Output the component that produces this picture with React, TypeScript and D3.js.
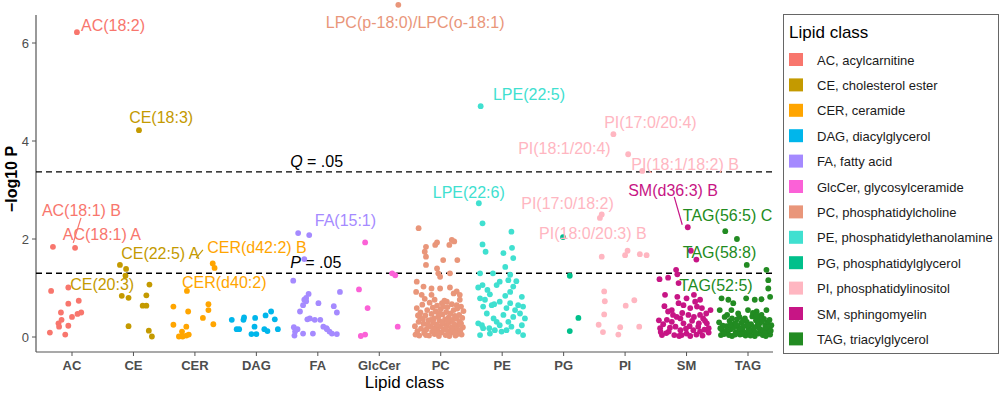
import React, { useEffect, useRef } from 'react';
import * as d3 from 'd3';

const categories = ['AC', 'CE', 'CER', 'DAG', 'FA', 'GlcCer', 'PC', 'PE', 'PG', 'PI', 'SM', 'TAG'];

const legendLabels = [
  'AC, acylcarnitine',
  'CE, cholesterol ester',
  'CER, ceramide',
  'DAG, diacylglycerol',
  'FA, fatty acid',
  'GlcCer, glycosylceramide',
  'PC, phosphatidylcholine',
  'PE, phosphatidylethanolamine',
  'PG, phosphatidylglycerol',
  'PI, phosphatidylinositol',
  'SM, sphingomyelin',
  'TAG, triacylglycerol',
];

const classColors = [
  '#F8766D', '#C49A00', '#FFA500', '#00B6EB', '#A58AFF', '#FB61D7',
  '#E9967A', '#40E0D0', '#00C08B', '#FFB6C1', '#C71585', '#228B22',
];

// each point: [jitter in category units, -log10 P]
const acPoints = [
  [0.08, 6.22], [-0.31, 1.84], [0.05, 1.82], [-0.34, 0.94], [-0.06, 1.01], [0.11, 0.74],
  [-0.06, 0.68], [-0.18, 0.5], [0.15, 0.5], [0.09, 0.47], [0.0, 0.41], [-0.17, 0.35],
  [-0.22, 0.28], [-0.06, 0.23], [-0.21, 0.21], [-0.36, 0.09], [-0.11, 0.05],
];

const cePoints = [
  [0.09, 4.22], [-0.22, 1.47], [-0.12, 1.39], [-0.13, 1.25], [0.26, 1.07], [-0.19, 0.84],
  [-0.08, 0.8], [0.21, 0.85], [0.15, 0.64], [0.21, 0.64], [-0.08, 0.22], [0.25, 0.13], [0.3, 0.01],
];

const cerPoints = [
  [0.29, 1.5], [0.32, 1.41], [-0.13, 0.94], [-0.35, 0.62], [-0.11, 0.52], [0.22, 0.67],
  [0.22, 0.55], [0.13, 0.39], [0.3, 0.26], [-0.35, 0.25], [-0.14, 0.21], [-0.21, 0.11],
  [-0.26, 0.01], [-0.2, 0.01], [-0.14, 0.03], [-0.1, 0.05],
];

const dagPoints = [
  [-0.4, 0.35], [-0.32, 0.16], [-0.28, 0.16], [-0.21, 0.35], [-0.2, 0.4], [-0.02, 0.39],
  [-0.03, 0.21], [-0.08, 0.06], [0.0, 0.06], [0.15, 0.44], [0.24, 0.52], [0.3, 0.36],
  [0.13, 0.16], [0.18, 0.12], [0.35, 0.16],
];

const faPoints = [
  [-0.32, 2.12], [-0.14, 2.08], [-0.22, 1.59], [-0.4, 1.15], [-0.15, 0.88], [-0.19, 0.8],
  [-0.22, 0.76], [-0.19, 0.73], [-0.24, 0.65], [0.01, 0.69], [0.26, 0.63], [0.36, 0.92],
  [0.31, 0.5], [-0.29, 0.52], [-0.17, 0.36], [-0.05, 0.35], [0.04, 0.35], [0.09, 0.21],
  [0.14, 0.18], [-0.39, 0.2], [-0.33, 0.16], [-0.24, 0.07], [-0.08, 0.07], [0.19, 0.11],
  [0.23, 0.07], [0.31, 0.06], [0.15, 0.16], [-0.37, 0.11], [-0.38, 0.03], [-0.13, 0.38],
];

const glcCerPoints = [
  [-0.23, 1.93], [-0.33, 0.97], [-0.19, 0.59], [0.21, 1.3], [0.26, 1.26], [0.3, 0.21],
  [-0.3, 0.02], [-0.23, 0.05],
];

const pcPoints = [
  [-0.69, 6.78], [-0.36, 2.22], [-0.24, 1.84], [-0.26, 1.74], [-0.24, 1.64], [-0.09, 1.88],
  [-0.06, 1.93], [0.04, 1.57], [0.14, 1.88], [0.18, 1.98], [0.22, 1.95], [0.27, 1.57],
  [-0.24, 1.47], [-0.06, 1.4], [-0.04, 1.3], [-0.01, 1.23], [0.15, 1.3], [-0.39, 1.13],
  [-0.28, 1.03], [-0.15, 0.99], [-0.01, 0.99], [0.15, 1.01], [0.26, 0.93], [0.31, 0.86],
  [-0.4, 0.92], [-0.31, 0.86], [-0.26, 0.78], [-0.15, 0.86], [-0.1, 0.76], [0.02, 0.69],
  [0.21, 0.89], [0.31, 0.76], [0.26, 0.65], [0.1, 0.72], [-0.39, 0.59], [-0.34, 0.41],
  [-0.42, 0.22], [0.17, 0.19], [-0.41, 0.05], [0.33, 0.62], [-0.33, 0.5], [0.09, 0.51],
  [-0.28, 0.27], [-0.27, 0.08], [0.36, 0.2], [-0.23, 0.16], [-0.22, 0.55], [0.06, 0.74],
  [-0.19, 0.03], [-0.18, 0.7], [0.24, 0.03], [-0.15, 0.47], [-0.14, 0.11], [-0.13, 0.6],
  [0.3, 0.45], [-0.11, 0.38], [-0.1, 0.06], [-0.09, 0.18], [-0.08, 0.52], [0.13, 0.4],
  [-0.06, 0.64], [-0.05, 0.13], [0.28, 0.24], [-0.03, 0.02], [-0.02, 0.33], [-0.01, 0.21],
  [0.0, 0.57], [0.01, 0.09], [0.03, 0.46], [-0.36, 0.31], [0.05, 0.15], [-0.2, 0.34],
  [0.07, 0.36], [0.08, 0.04], [-0.25, 0.44], [0.1, 0.23], [0.11, 0.61], [0.12, 0.12],
  [-0.12, 0.29], [0.14, 0.3], [0.15, 0.07], [0.16, 0.48], [-0.38, 0.12], [0.18, 0.67],
  [0.19, 0.35], [0.2, 0.1], [0.21, 0.55], [0.22, 0.26], [0.23, 0.43], [-0.07, 0.25],
  [0.25, 0.16], [0.26, 0.37], [0.27, 0.58], [-0.04, 0.42], [0.29, 0.09], [-0.17, 0.22],
  [0.31, 0.31], [0.32, 0.14], [-0.3, 0.66], [0.34, 0.05], [0.35, 0.39], [0.04, 0.27],
  [0.37, 0.53], [-0.37, 0.44], [-0.32, 0.17], [-0.29, 0.37], [-0.24, 0.04], [-0.21, 0.25],
  [-0.16, 0.35], [-0.06, 0.08], [0.02, 0.3], [0.08, 0.17], [0.14, 0.02], [0.19, 0.12],
  [0.27, 0.06], [0.33, 0.28], [-0.35, 0.03], [-0.11, 0.15], [0.04, 0.62], [0.23, 0.08],
  [-0.26, 0.12], [0.11, 0.33], [-0.02, 0.48],
];

const pePoints = [
  [-0.35, 4.71], [-0.38, 2.73], [-0.32, 2.32], [0.15, 2.15], [-0.32, 1.89], [-0.27, 1.74],
  [0.02, 1.71], [0.18, 1.61], [0.16, 1.82], [-0.36, 1.3], [-0.15, 1.3], [0.05, 1.43],
  [0.13, 1.27], [-0.39, 1.01], [-0.32, 1.06], [-0.24, 0.96], [-0.2, 0.87], [-0.09, 1.06],
  [-0.04, 1.13], [0.1, 1.16], [0.18, 1.03], [0.23, 1.14], [0.13, 0.92], [0.05, 0.84],
  [0.32, 0.82], [-0.36, 0.79], [-0.31, 0.62], [-0.13, 0.67], [-0.04, 0.72], [0.07, 0.59],
  [0.21, 0.55], [0.29, 0.48], [0.37, 0.38], [-0.39, 0.28], [-0.33, 0.24], [-0.21, 0.18],
  [-0.09, 0.31], [-0.04, 0.24], [0.07, 0.14], [0.15, 0.21], [0.26, 0.11], [0.34, 0.04],
  [-0.36, 0.04], [-0.2, 0.07], [0.18, 0.41], [0.26, 0.65], [-0.25, 0.48], [0.02, 0.45],
  [0.1, 0.31], [-0.14, 0.38], [-0.28, 0.76], [-0.17, 0.65], [0.34, 0.62], [0.13, 0.69],
  [0.32, 0.24], [-0.01, 0.11], [-0.12, 0.14], [-0.31, 0.18],
];

const pgPoints = [[-0.01, 2.04], [0.1, 1.25], [0.24, 0.39], [0.1, 0.12]];

const piPoints = [
  [-0.19, 4.14], [0.05, 3.73], [0.28, 3.39], [-0.41, 2.43], [-0.38, 2.5], [-0.38, 1.64],
  [0.0, 1.67], [0.04, 1.76], [0.24, 1.69], [0.35, 1.67], [-0.34, 0.93], [-0.33, 0.73],
  [0.15, 0.75], [0.01, 0.64], [-0.34, 0.46], [-0.43, 0.25], [-0.08, 0.2], [0.23, 0.21],
  [-0.36, 0.1], [-0.11, 0.05],
];

const smPoints = [
  [0.02, 2.24], [0.07, 1.76], [0.16, 1.58], [-0.17, 1.37], [-0.15, 1.28], [-0.44, 1.18],
  [-0.3, 1.21], [-0.13, 1.1], [-0.35, 0.86], [-0.15, 0.82], [0.12, 0.86], [0.22, 0.76],
  [0.0, 0.79], [-0.13, 0.69], [-0.24, 0.55], [-0.05, 0.65], [0.14, 0.72], [0.17, 0.62],
  [0.25, 0.59], [-0.16, 0.41], [-0.32, 0.35], [0.03, 0.45], [0.27, 0.38], [0.33, 0.28],
  [0.19, 0.21], [-0.43, 0.18], [-0.4, 0.04], [-0.29, 0.11], [-0.18, 0.21], [-0.1, 0.14],
  [0.0, 0.07], [0.06, 0.02], [0.11, 0.14], [0.22, 0.11], [-0.24, 0.31], [-0.05, 0.28],
  [-0.1, 0.38], [0.32, 0.48], [0.06, 0.59], [0.22, 0.45], [-0.38, 0.26], [-0.33, 0.08],
  [-0.2, 0.04], [-0.27, 0.19], [-0.07, 0.49], [0.09, 0.33], [0.16, 0.05], [0.29, 0.15],
  [0.36, 0.09], [-0.45, 0.34], [0.39, 0.55], [-0.12, 0.02], [0.12, 0.41], [-0.36, 0.63],
  [0.26, 0.03], [-0.01, 0.17], [-0.22, 0.45], [0.3, 0.33], [-0.08, 0.04], [0.2, 0.28],
  [-0.3, 0.52], [0.05, 0.22], [0.36, 0.18], [-0.42, 0.1],
];

const tagPoints = [
  [-0.37, 2.16], [-0.18, 2.0], [-0.02, 1.47], [0.3, 1.37], [0.33, 1.16], [0.33, 0.99],
  [0.36, 0.82], [-0.43, 0.79], [-0.32, 0.76], [-0.24, 0.69], [-0.03, 0.79], [0.11, 0.76],
  [0.22, 0.77], [-0.46, 0.55], [-0.27, 0.55], [-0.16, 0.48], [0.0, 0.55], [0.14, 0.52],
  [0.3, 0.55], [-0.38, 0.41], [-0.05, 0.38], [0.22, 0.45], [-0.47, 0.3], [-0.42, 0.14],
  [-0.44, 0.04], [-0.35, 0.22], [-0.33, 0.08], [-0.3, 0.33], [-0.28, 0.16], [-0.26, 0.02],
  [-0.22, 0.27], [-0.2, 0.1], [-0.18, 0.36], [-0.15, 0.19], [-0.13, 0.05], [-0.11, 0.29],
  [-0.09, 0.13], [-0.07, 0.22], [-0.04, 0.03], [-0.02, 0.31], [0.01, 0.17], [0.03, 0.08],
  [0.05, 0.26], [0.07, 0.42], [0.09, 0.12], [0.11, 0.02], [0.13, 0.34], [0.15, 0.21],
  [0.17, 0.07], [0.19, 0.28], [0.21, 0.15], [0.24, 0.04], [0.26, 0.37], [0.28, 0.23],
  [0.3, 0.1], [0.32, 0.3], [0.34, 0.16], [0.36, 0.05], [0.38, 0.24], [-0.41, 0.23],
  [-0.36, 0.12], [-0.31, 0.04], [-0.24, 0.19], [-0.17, 0.09], [-0.12, 0.16], [-0.06, 0.1],
  [0.0, 0.24], [0.06, 0.14], [0.12, 0.09], [0.18, 0.18], [0.25, 0.13], [0.31, 0.2],
  [-0.39, 0.06], [-0.29, 0.25], [-0.21, 0.05], [-0.08, 0.34], [0.04, 0.03], [0.16, 0.27],
  [0.27, 0.07], [0.37, 0.13], [-0.14, 0.41], [0.08, 0.49], [0.2, 0.38], [-0.34, 0.45],
  [-0.45, 0.18], [-0.1, 0.06], [0.14, 0.44], [0.23, 0.31], [0.35, 0.35], [-0.26, 0.38],
  [0.02, 0.12], [0.29, 0.02], [-0.19, 0.25], [0.1, 0.2],
];

const pointsByClass = [
  acPoints, cePoints, cerPoints, dagPoints, faPoints, glcCerPoints,
  pcPoints, pePoints, pgPoints, piPoints, smPoints, tagPoints,
];

// label text, class index, left x (category units), baseline (-log10 P)
const labels: [string, number, number, number][] = [
  ['AC(18:2)', 0, 0.146, 6.245],
  ['LPC(p-18:0)/LPC(o-18:1)', 6, 4.13, 6.31],
  ['CE(18:3)', 1, 0.93, 4.37],
  ['LPE(22:5)', 7, 6.85, 4.84],
  ['PI(17:0/20:4)', 9, 8.66, 4.27],
  ['PI(18:1/20:4)', 9, 7.26, 3.73],
  ['PI(18:1/18:2) B', 9, 9.1, 3.41],
  ['SM(d36:3) B', 10, 9.05, 2.88],
  ['LPE(22:6)', 7, 5.87, 2.84],
  ['PI(17:0/18:2)', 9, 7.31, 2.61],
  ['TAG(56:5) C', 11, 9.94, 2.37],
  ['PI(18:0/20:3) B', 9, 7.6, 2.0],
  ['TAG(58:8)', 11, 9.94, 1.61],
  ['TAG(52:5)', 11, 9.88, 0.94],
  ['AC(18:1) B', 0, -0.49, 2.47],
  ['AC(18:1) A', 0, -0.15, 1.98],
  ['CE(22:5) A', 1, 0.8, 1.59],
  ['CER(d42:2) B', 2, 2.2, 1.71],
  ['CE(20:3)', 1, -0.03, 0.96],
  ['CER(d40:2)', 2, 1.79, 1.0],
  ['FA(15:1)', 4, 3.95, 2.27],
];

// label leader lines: class index, x1, y1, x2, y2
const segments: [number, number, number, number, number][] = [
  [0, 0.146, 2.43, 0.02, 1.92],
  [10, 9.8, 2.86, 9.93, 2.29],
  [1, 2.02, 1.61, 2.13, 1.78],
];

const pThreshold = 0.05;
const qLineValue = 3.37;
const yTicks = [0, 2, 4, 6];

const App: React.FC = () => {
  const chartRef = useRef<SVGSVGElement>(null);

  useEffect(() => {
    const svg = d3.select(chartRef.current!);
    svg.selectAll('*').remove();

    const panel = { left: 36, right: 773, top: 15, bottom: 352 };
    const font = "'Liberation Sans', Arial, sans-serif";

    const x = d3.scaleLinear().domain([0, categories.length - 1]).range([72, 748]);
    const y = d3.scaleLinear().domain([0, 6]).range([337, 43]);

    // axes lines
    svg.append('line')
      .attr('x1', panel.left).attr('x2', panel.left)
      .attr('y1', panel.top).attr('y2', panel.bottom)
      .attr('stroke', '#555').attr('stroke-width', 1.2);
    svg.append('line')
      .attr('x1', panel.left).attr('x2', panel.right)
      .attr('y1', panel.bottom).attr('y2', panel.bottom)
      .attr('stroke', '#555').attr('stroke-width', 1.2);

    // y ticks
    const yt = svg.append('g');
    yTicks.forEach((t) => {
      yt.append('line')
        .attr('x1', panel.left - 4).attr('x2', panel.left)
        .attr('y1', y(t)).attr('y2', y(t))
        .attr('stroke', '#555');
      yt.append('text')
        .attr('x', panel.left - 7).attr('y', y(t)).attr('dy', '0.35em')
        .attr('text-anchor', 'end')
        .attr('font-family', font).attr('font-size', 13)
        .attr('fill', '#4d4d4d')
        .text(t);
    });

    // x ticks
    const xt = svg.append('g');
    categories.forEach((c, i) => {
      xt.append('line')
        .attr('x1', x(i)).attr('x2', x(i))
        .attr('y1', panel.bottom).attr('y2', panel.bottom + 4)
        .attr('stroke', '#555');
      xt.append('text')
        .attr('x', x(i)).attr('y', 370)
        .attr('text-anchor', 'middle')
        .attr('font-family', font).attr('font-size', 13).attr('font-weight', 'bold')
        .attr('fill', '#4d4d4d')
        .text(c);
    });

    // axis titles
    svg.append('text')
      .attr('x', (panel.left + panel.right) / 2).attr('y', 388)
      .attr('text-anchor', 'middle')
      .attr('font-family', font).attr('font-size', 17)
      .attr('fill', '#000')
      .text('Lipid class');
    svg.append('text')
      .attr('transform', 'translate(17,179) rotate(-90)')
      .attr('text-anchor', 'middle')
      .attr('font-family', font).attr('font-size', 16).attr('font-weight', 'bold')
      .attr('fill', '#000')
      .text('\u2212log10 P');

    // significance lines
    const pLine = -Math.log10(pThreshold);
    [qLineValue, pLine].forEach((v) => {
      svg.append('line')
        .attr('x1', panel.left).attr('x2', panel.right)
        .attr('y1', y(v)).attr('y2', y(v))
        .attr('stroke', '#000').attr('stroke-width', 1.3)
        .attr('stroke-dasharray', '6,4');
    });
    [['Q', qLineValue], ['P', pLine]].forEach(([name, v]) => {
      const t = svg.append('text')
        .attr('x', x(3.55)).attr('y', y(v as number) - 5)
        .attr('font-family', font).attr('font-size', 16)
        .attr('fill', '#000');
      t.append('tspan').attr('font-style', 'italic').text(name as string);
      t.append('tspan').text(' = .05');
    });

    // points
    pointsByClass.forEach((pts, ci) => {
      svg.append('g')
        .selectAll('circle')
        .data(pts)
        .enter()
        .append('circle')
        .attr('cx', (d) => x(ci + d[0]))
        .attr('cy', (d) => y(d[1]))
        .attr('r', 2.9)
        .attr('fill', classColors[ci]);
    });

    // leader lines
    svg.append('g')
      .selectAll('line')
      .data(segments)
      .enter()
      .append('line')
      .attr('x1', (d) => x(d[1])).attr('y1', (d) => y(d[2]))
      .attr('x2', (d) => x(d[3])).attr('y2', (d) => y(d[4]))
      .attr('stroke', (d) => classColors[d[0]])
      .attr('stroke-width', 1.2);

    // labels
    svg.append('g')
      .selectAll('text')
      .data(labels)
      .enter()
      .append('text')
      .attr('x', (d) => x(d[2])).attr('y', (d) => y(d[3]))
      .attr('font-family', font).attr('font-size', 16)
      .attr('fill', (d) => classColors[d[1]])
      .text((d) => d[0]);

    // legend
    const lg = svg.append('g');
    lg.append('rect')
      .attr('x', 783.5).attr('y', 14.5)
      .attr('width', 215).attr('height', 339)
      .attr('fill', '#fff').attr('stroke', '#666');
    lg.append('text')
      .attr('x', 789).attr('y', 38)
      .attr('font-family', font).attr('font-size', 17)
      .attr('fill', '#000')
      .text('Lipid class');
    legendLabels.forEach((name, i) => {
      lg.append('rect')
        .attr('x', 789).attr('y', 53 + i * 25.4)
        .attr('width', 14).attr('height', 13)
        .attr('fill', classColors[i]);
      lg.append('text')
        .attr('x', 817).attr('y', 64.5 + i * 25.4)
        .attr('font-family', font).attr('font-size', 13)
        .attr('fill', '#1a1a1a')
        .text(name);
    });

    return () => {
      svg.selectAll('*').remove();
    };
  }, []);

  return (
    <svg
      ref={chartRef}
      width={1000}
      height={394}
      style={{ position: 'absolute', left: 0, top: 0, background: '#fff' }}
    />
  );
};

export default App;
